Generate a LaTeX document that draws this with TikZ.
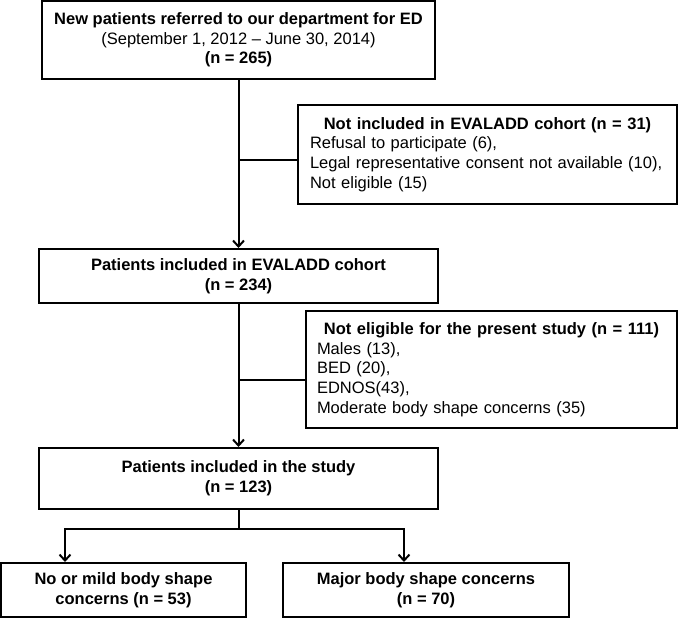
\documentclass[tikz,border=0pt]{standalone}
\usepackage{fontspec}
\setmainfont{Liberation Sans}
\usetikzlibrary{arrows.meta}
\begin{document}
\begin{tikzpicture}[x=1pt,y=-1pt,
  box/.style={draw, line width=2pt, align=center, inner sep=0pt,
    font=\fontsize{16.5}{19.7}\selectfont},
  conn/.style={line width=2pt},
  arr/.style={conn, -{Straight Barb[length=6pt,width=11pt,line width=2pt]}}]
\useasboundingbox (0,0) rectangle (680,619);
\node[box, minimum width=393pt, minimum height=78pt] (new) at (238.5,40)
  {\textbf{New patients referred to our department for ED}\\(September 1, 2012 -- June 30, 2014)\\\textbf{(n = 265)}};
\node[box, minimum width=379pt, minimum height=99pt, text width=355pt, align=left] (notinc) at (487.5,154.5)
  {\makebox[\linewidth]{\bfseries Not included in EVALADD cohort (n = 31)}\\Refusal to participate (6),\\Legal representative consent not available (10),\\Not eligible (15)};
\node[box, minimum width=399pt, minimum height=54pt] (incl) at (238.5,276)
  {\textbf{Patients included in EVALADD cohort}\\\textbf{(n = 234)}};
\node[box, minimum width=371pt, minimum height=117pt, text width=349pt, align=left] (elig) at (491.5,369.5)
  {\makebox[\linewidth]{\bfseries Not eligible for the present study (n = 111)}\\Males (13),\\BED (20),\\EDNOS(43),\\Moderate body shape concerns (35)};
\node[box, minimum width=399pt, minimum height=61pt] (study) at (238.5,478.5)
  {\textbf{Patients included in the study}\\\textbf{(n = 123)}};
\node[box, minimum width=245pt, minimum height=54pt] (mild) at (123.5,590)
  {\textbf{No or mild body shape}\\\textbf{concerns (n = 53)}};
\node[box, minimum width=286pt, minimum height=54pt] (major) at (426,590)
  {\textbf{Major body shape concerns}\\\textbf{(n = 70)}};
\coordinate (b1) at (238.5,160);
\coordinate (b2) at (238.5,380);
\coordinate (split) at (238.5,529);
\coordinate (lt) at (65,529);
\coordinate (rt) at (404,529);
\draw[arr] (new.south) -- (incl.north);
\draw[conn] (b1) -- (b1 -| notinc.west);
\draw[arr] (incl.south) -- (study.north);
\draw[conn] (b2) -- (b2 -| elig.west);
\draw[conn] (study.south) -- (split);
\draw[arr] (split) -- (lt) -- (lt |- mild.north);
\draw[arr] (split) -- (rt) -- (rt |- major.north);
\end{tikzpicture}
\end{document}
